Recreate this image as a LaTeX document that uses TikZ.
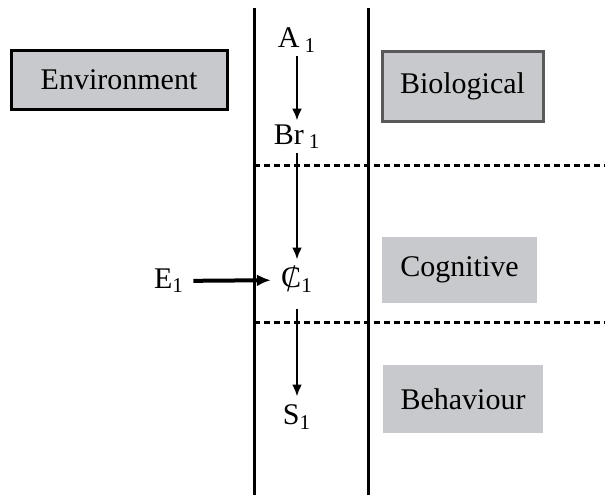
\documentclass[tikz,border=0pt]{standalone}
\usepackage{graphicx}
\usepackage{fontspec}
\setmainfont{Liberation Serif}
\usetikzlibrary{arrows.meta,positioning}
\definecolor{boxgray}{RGB}{200,201,204}
\newcommand{\crossC}{\ooalign{C\cr\hidewidth\raisebox{-0.12em}{\scalebox{1}[1.3]{/}}\hidewidth\cr}}

\begin{document}
\begin{tikzpicture}[x=0.5pt,y=-0.5pt,every node/.style={font=\fontsize{15}{17}\selectfont,inner sep=2pt},>={Latex[length=6pt,width=5pt]}]
\tikzset{area/.style={fill=boxgray,minimum width=80pt,minimum height=34pt}}
\useasboundingbox (0,0) rectangle (605,495);
% lanes
\draw[line width=1.5pt] (254,8) -- (254,495);
\draw[line width=1.5pt] (368,8) -- (368,495);
\draw[line width=1.5pt,dash pattern=on 3pt off 2pt] (254,165) -- (605,165);
\draw[line width=1.5pt,dash pattern=on 3pt off 2pt] (254,322) -- (605,322);
% boxes
\node[draw,line width=1.5pt,fill=boxgray,minimum width=108pt,minimum height=29.5pt] (env) at (119,79.5) {Environment};
\node[area,draw=black!65,line width=1.5pt,minimum width=80.5pt,minimum height=35pt] (bio) at (462.5,86) {Biological};
\node[area,minimum width=77.5pt,minimum height=33pt] (cog) at (459.5,270) {Cognitive};
\node[area] (beh) at (463,399) {Behaviour};
% chain
\node (a1) at (297,40) {A\,\textsubscript{1}};
\node (br1) at (297,137) {Br\,\textsubscript{1}};
\node (c1) at (297,280) {\crossC\textsubscript{1}};
\node (e1) at (169,281) {E\textsubscript{1}};
\node (s1) at (297,417) {S\textsubscript{1}};
\draw[->,line width=1.2pt] (a1) -- (br1);
\draw[->,line width=1.2pt,shorten >=2pt] (br1) -- (c1);
\draw[->,line width=1.2pt,shorten <=6pt,shorten >=2pt] (c1) -- (s1);
\draw[-{Latex[length=7pt,width=6pt]},line width=2pt,shorten <=2.5pt,shorten >=3pt] (e1) -- (c1);
\end{tikzpicture}
\end{document}
